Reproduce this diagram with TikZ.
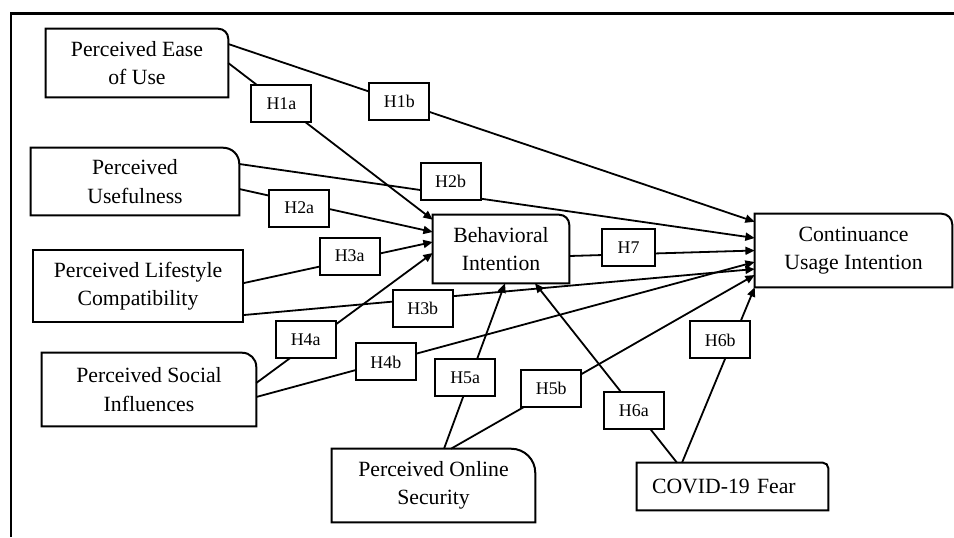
\documentclass[tikz,border=0pt]{standalone}
\usepackage{fontspec}
\setmainfont{Liberation Serif}
\usetikzlibrary{arrows.meta,calc}
\tikzset{
 construct/.style={align=center,inner sep=0pt,font=\fontsize{16.3}{21.4}\selectfont},
 boxline/.style={line width=1.5pt},
 hyp/.style={draw,line width=1.5pt,fill=white,inner sep=0pt,minimum width=45pt,minimum height=27.75pt,font=\fontsize{13.4}{16}\selectfont},
 link/.style={line width=1.35pt,-{Triangle[length=7pt,width=6pt]}},
 pageedge/.style={line width=1.8pt}
}
\begin{document}
\begin{tikzpicture}[x=.75pt,y=-.75pt]
\path[use as bounding box] (0,0) rectangle (954,537);
\draw[pageedge] (11,537) -- (11,13.5) -- (954,13.5);
\node[construct,minimum width=136.5pt,minimum height=51pt] (peou) at (137,63) {Perceived Ease\\of Use};
\node[construct,minimum width=156pt,minimum height=50.25pt] (pu) at (135,181.5) {Perceived\\Usefulness};
\node[construct,draw,line width=1.5pt,minimum width=157.5pt,minimum height=54pt] (plc) at (138,286) {Perceived Lifestyle\\Compatibility};
\node[construct,minimum width=160.5pt,minimum height=54.75pt] (psi) at (149,389.5) {Perceived Social\\Influences};
\node[construct,minimum width=102pt,minimum height=51pt] (bi) at (501,249) {Behavioral\\Intention};
\node[construct,minimum width=147.75pt,minimum height=54.75pt] (cui) at (853.5,250.5) {Continuance\\Usage Intention};
\node[construct,minimum width=152.25pt,minimum height=54.75pt] (posec) at (433.5,485.5) {Perceived Online\\Security};
\node[construct,align=left,text width=120.75pt,inner xsep=11.25pt,minimum height=35.25pt] (covid) at (732.5,486.5) {COVID-19 Fear};
\draw[boxline] (peou.south west) -- (peou.north west) -- ([xshift=-7.5pt]peou.north east) arc[start angle=90,end angle=0,radius=7.5pt] -- (peou.south east) -- cycle;
\draw[boxline] (pu.south west) -- (pu.north west) -- ([xshift=-12pt]pu.north east) arc[start angle=90,end angle=0,radius=12pt] -- (pu.south east) -- cycle;
\draw[boxline] (psi.south west) -- (psi.north west) -- ([xshift=-10.5pt]psi.north east) arc[start angle=90,end angle=0,radius=10.5pt] -- (psi.south east) -- cycle;
\draw[boxline] (bi.south west) -- (bi.north west) -- ([xshift=-7.5pt]bi.north east) arc[start angle=90,end angle=0,radius=7.5pt] -- (bi.south east) -- cycle;
\draw[boxline] (cui.south west) -- (cui.north west) -- ([xshift=-8pt]cui.north east) arc[start angle=90,end angle=0,radius=8pt] -- (cui.south east) -- cycle;
\draw[boxline] (posec.south west) -- (posec.north west) -- ([xshift=-18pt]posec.north east) arc[start angle=90,end angle=0,radius=18pt] -- (posec.south east) -- cycle;
\draw[boxline] (covid.south west) -- (covid.north west) -- ([xshift=-4pt]covid.north east) arc[start angle=90,end angle=0,radius=4pt] -- (covid.south east) -- cycle;
\draw[link] (peou.east) -- node[hyp,pos=.26] (h1a) {H1a} ($(bi.north west)+(0,5)$);
\draw[link] ($(peou.east)+(0,-19)$) -- node[hyp,pos=.325] (h1b) {H1b} ($(cui.north west)+(0,8)$);
\draw[link] ($(pu.east)+(0,7.5)$) -- node[hyp,pos=.31,yshift=-4.3pt] (h2a) {H2a} ($(bi.west)+(0,-17)$);
\draw[link] ($(pu.east)+(0,-17.5)$) -- node[hyp,pos=.41,yshift=9.5pt] (h2b) {H2b} ($(cui.west)+(0,-12.5)$);
\draw[link] ($(plc.east)+(0,-3)$) -- node[hyp,pos=.56,yshift=3pt] (h3a) {H3a} ($(bi.west)+(0,-7)$);
\draw[link] ($(plc.east)+(0,29)$) -- node[hyp,pos=.35,yshift=-7pt] (h3b) {H3b} ($(cui.west)+(0,18.5)$);
\draw[link] ($(psi.east)+(0,-6.5)$) -- node[hyp,pos=.28,yshift=5.3pt] (h4a) {H4a} ($(bi.west)+(0,4)$);
\draw[link] ($(psi.east)+(0,7.5)$) -- node[hyp,pos=.26] (h4b) {H4b} ($(cui.west)+(0,11.5)$);
\draw[link] ($(posec.north)+(10.5,0)$) -- node[hyp,pos=.43,xshift=-3.75pt] (h5a) {H5a} ($(bi.south)+(4,0)$);
\draw[link] ($(posec.north)+(17.5,0)$) -- node[hyp,pos=.33,yshift=2.2pt] (h5b) {H5b} ($(cui.west)+(0,24.5)$);
\draw[link] ($(covid.north)+(-55.5,0)$) -- node[hyp,pos=.29,xshift=-1.5pt] (h6a) {H6a} ($(bi.south)+(34,0)$);
\draw[link] ($(covid.north)+(-50.5,0)$) -- node[hyp,pos=.7,xshift=-9.5pt] (h6b) {H6b} (cui.south west);
\draw[link] ($(bi.east)+(0,7)$) -- node[hyp,pos=.32,yshift=4.9pt,minimum width=39.75pt] (h7) {H7} (cui.west);
\end{tikzpicture}
\end{document}
